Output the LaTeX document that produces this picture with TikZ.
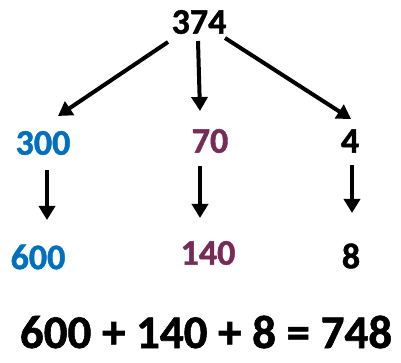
\documentclass[tikz,border=0pt]{standalone}
\usepackage{fontspec}
\setmainfont{Carlito}[BoldFeatures={FakeBold=1.2}]
\usetikzlibrary{arrows.meta,calc}
\definecolor{placeblue}{HTML}{0070C0}
\definecolor{placeplum}{HTML}{772B56}
\begin{document}
\begin{tikzpicture}[x=1pt,y=-1pt,font=\bfseries\fontsize{36}{36}\selectfont,
  num/.style={inner sep=0pt},
  arr/.style={line width=4pt,-{Triangle[length=14pt,width=16pt]}}]
\useasboundingbox (0,0) rectangle (401,363);
% the number and its parts
\node[num] (n374) at (199,22) {374};
\node[num,text=placeblue] (n300) at (43,143) {300};
\node[num,text=placeplum] (n70) at (210,141) {70};
\node[num] (n4) at (350,141) {4};
% doubled parts
\node[num,text=placeblue] (n600) at (38,257) {600};
\node[num,text=placeplum] (n140) at (208,253) {140};
\node[num] (n8) at (351,256) {8};
\node[num,font=\bfseries\fontsize{47}{47}\selectfont] (sum) at (206,332) {600 + 140 + 8 = 748};
% split
\draw[arr] ($(n374)+(-31,20)$)--($(n300)+(15,-27)$);
\draw[arr] ($(n374)+(-1,19)$)--($(n70)+(-10,-30)$);
\draw[arr] ($(n374)+(26,16)$)--($(n4)+(1,-22)$);
% double each part
\foreach \a/\b/\u/\v/\p/\q in {n300/n600/4/27/9/-37,n70/n140/-10/25/-8/-35,n4/n8/2/24/1/-43}{
  \draw[arr] ($(\a)+(\u,\v)$)--($(\b)+(\p,\q)$);
}
\end{tikzpicture}
\end{document}
